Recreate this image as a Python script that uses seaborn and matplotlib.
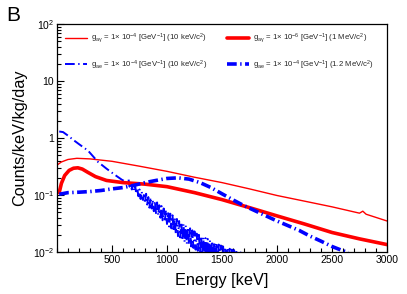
import numpy as np
import pandas as pd
import matplotlib
matplotlib.use("Agg")
import matplotlib.pyplot as plt
import seaborn as sns
from matplotlib.ticker import FixedLocator, FixedFormatter, MultipleLocator, LogLocator, NullFormatter

# ---------------- data ----------------
e_ay_10k = [5, 40, 100, 180, 300, 500, 750, 1000, 1250, 1500, 1750, 2000, 2250, 2500, 2750, 2780, 2810, 3000]
v_ay_10k = [0.34, 0.38, 0.42, 0.44, 0.43, 0.39, 0.32, 0.26, 0.205, 0.165, 0.128, 0.098, 0.078, 0.062, 0.048, 0.052, 0.046, 0.035]

e_ay_1M = [20, 40, 70, 110, 150, 190, 230, 280, 350, 450, 600, 800, 1000, 1250, 1500, 1750, 2000, 2250, 2500, 2750, 3000]
v_ay_1M = [0.11, 0.16, 0.22, 0.27, 0.295, 0.30, 0.285, 0.25, 0.21, 0.18, 0.165, 0.155, 0.14, 0.11, 0.083, 0.06, 0.043, 0.031, 0.022, 0.017, 0.0135]

e_ae_10k = [20, 55, 100, 150, 200, 282, 373, 450, 520, 590, 640,
            650, 660, 670, 680, 690, 700, 710, 720, 730, 740, 750, 760, 770, 780, 790,
            800, 810, 820, 830, 840, 850, 860, 870, 880, 890, 900, 910, 920, 930, 940,
            950, 960, 970, 980, 990, 1000, 1010, 1020, 1030, 1040, 1050, 1060, 1070, 1080,
            1090, 1100, 1110, 1120, 1130, 1140, 1150, 1160, 1170, 1180, 1190, 1200, 1210,
            1220, 1230, 1240, 1250, 1260, 1270, 1280, 1290, 1300, 1310, 1320, 1330, 1340,
            1350, 1360, 1370, 1380, 1390, 1400, 1410, 1420, 1430, 1440, 1450, 1460, 1470,
            1480, 1490, 1500, 1510, 1520, 1530, 1540, 1550, 1560, 1570, 1580, 1590, 1600,
            1610, 1620, 1630, 1640, 1650, 1660, 1670, 1680, 1690, 1700]
v_ae_10k = [1.3, 1.27, 1.1, 0.92, 0.78, 0.6, 0.38, 0.29, 0.23, 0.185, 0.165,
            0.19, 0.14, 0.17, 0.125, 0.16, 0.12, 0.15, 0.105, 0.13, 0.095, 0.125, 0.085, 0.115, 0.082, 0.10,
            0.072, 0.105, 0.068, 0.092, 0.060, 0.090, 0.058, 0.082, 0.052, 0.078, 0.048, 0.074, 0.044, 0.066, 0.040,
            0.064, 0.036, 0.058, 0.034, 0.054, 0.031, 0.050, 0.028, 0.047, 0.026, 0.044, 0.023, 0.040, 0.021,
            0.038, 0.019, 0.035, 0.018, 0.033, 0.016, 0.031, 0.015, 0.029, 0.014, 0.027, 0.0135, 0.026,
            0.0125, 0.024, 0.0118, 0.023, 0.011, 0.021, 0.0105, 0.020, 0.0098, 0.019, 0.0092, 0.018, 0.0088,
            0.0175, 0.0084, 0.017, 0.0080, 0.016, 0.0078, 0.0155, 0.0074, 0.015, 0.0072, 0.0142, 0.0070, 0.0135,
            0.0068, 0.013, 0.0066, 0.0125, 0.0064, 0.012, 0.0062, 0.0118, 0.0060, 0.0114, 0.0058, 0.011, 0.0056,
            0.0108, 0.0054, 0.0105, 0.0052, 0.0102, 0.0050, 0.0098, 0.0050, 0.0095, 0.0050]

e_ae_12M = [20, 100, 200, 300, 400, 500, 600, 700, 800, 900, 1000, 1100, 1200, 1300, 1400, 1500,
            1600, 1700, 1800, 1900, 2000, 2100, 2200, 2300, 2400, 2500, 2600, 2650]
v_ae_12M = [0.103, 0.11, 0.112, 0.115, 0.12, 0.128, 0.135, 0.148, 0.165, 0.18, 0.195, 0.2, 0.19, 0.165, 0.135, 0.105,
            0.082, 0.065, 0.053, 0.043, 0.035, 0.029, 0.024, 0.019, 0.0155, 0.0125, 0.0105, 0.0098]

labels = [
    r"$\mathrm{g_{a\gamma}}$ = 1$\times$ 10$^{-4}$ [GeV$^{-1}$] (10 keV/c$^{2}$)",
    r"$\mathrm{g_{ae}}$ = 1$\times$ 10$^{-4}$ [GeV$^{-1}$] (10 keV/c$^{2}$)",
    r"$\mathrm{g_{a\gamma}}$ = 1$\times$ 10$^{-6}$ [GeV$^{-1}$] (1 MeV/c$^{2}$)",
    r"$\mathrm{g_{ae}}$ = 1$\times$ 10$^{-4}$ [GeV$^{-1}$] (1.2 MeV/c$^{2}$)",
]
x_ticks = [500, 1000, 1500, 2000, 2500, 3000]
y_ticks = [0.01, 0.1, 1, 10, 100]
y_ticklabels = [r"10$^{-2}$", r"10$^{-1}$", "1", "10", r"10$^{2}$"]

# ---------------- style ----------------
sns.set_theme(style="white")
plt.rcParams['font.family'] = ['Liberation Sans', 'DejaVu Sans']
plt.rcParams['mathtext.fontset'] = 'custom'
plt.rcParams['mathtext.rm'] = 'Liberation Sans'
plt.rcParams['mathtext.it'] = 'Liberation Sans:italic'
plt.rcParams['mathtext.bf'] = 'Liberation Sans:bold'
plt.rcParams['lines.scale_dashes'] = False

fig = plt.figure(figsize=(4.07, 2.94), dpi=100)
ax = fig.add_axes([57/407, 1-252/294, 330/407, 228/294])

dashdot = (0, (7, 2.5, 1, 2.5))
series = [
    (e_ay_10k, v_ay_10k, labels[0], "#ff0000", 1.0, "-"),
    (e_ae_10k, v_ae_10k, labels[1], "#0000ff", 1.4, dashdot),
    (e_ay_1M, v_ay_1M, labels[2], "#ff0000", 2.6, "-"),
    (e_ae_12M, v_ae_12M, labels[3], "#0000ff", 2.6, dashdot),
]
for e, v, lab, col, lw, ls in series:
    df = pd.DataFrame({"E": e, "V": v})
    sns.lineplot(data=df, x="E", y="V", ax=ax, color=col, linewidth=lw,
                 linestyle=ls, label=lab, sort=False, estimator=None)

ax.set_yscale("log")
ax.set_xlim(0, 3000)
ax.set_ylim(0.01, 100)

ax.xaxis.set_major_locator(FixedLocator(x_ticks))
ax.xaxis.set_minor_locator(MultipleLocator(100))
ax.yaxis.set_major_locator(FixedLocator(y_ticks))
ax.yaxis.set_major_formatter(FixedFormatter(y_ticklabels))
ax.yaxis.set_minor_locator(LogLocator(base=10, subs=np.arange(2, 10)))
ax.yaxis.set_minor_formatter(NullFormatter())

ax.tick_params(axis="both", which="major", direction="in", length=5, width=0.8,
               labelsize=7.5, pad=2, color="black", labelcolor="black")
ax.tick_params(axis="both", which="minor", direction="in", length=3, width=0.8, color="black")
ax.tick_params(axis="x", which="both", bottom=True, top=False)
ax.tick_params(axis="y", which="both", left=True, right=False)

for s in ax.spines.values():
    s.set_color("black")
    s.set_linewidth(0.9)

ax.set_xlabel("Energy [keV]", fontsize=11.7, labelpad=6, color="black")
ax.set_ylabel("Counts/keV/kg/day", fontsize=11.7, labelpad=4, color="black")

leg = ax.legend(ncol=2, loc="upper left", bbox_to_anchor=(0.024, 0.965), frameon=False,
                fontsize=5.6, handlelength=2.8, handletextpad=0.5, columnspacing=2.6,
                labelspacing=1.7, borderpad=0, borderaxespad=0)
fig.text(6/407, 1-21/294, "B", fontsize=15, color="black")

fig.savefig("out.png", dpi=100)
